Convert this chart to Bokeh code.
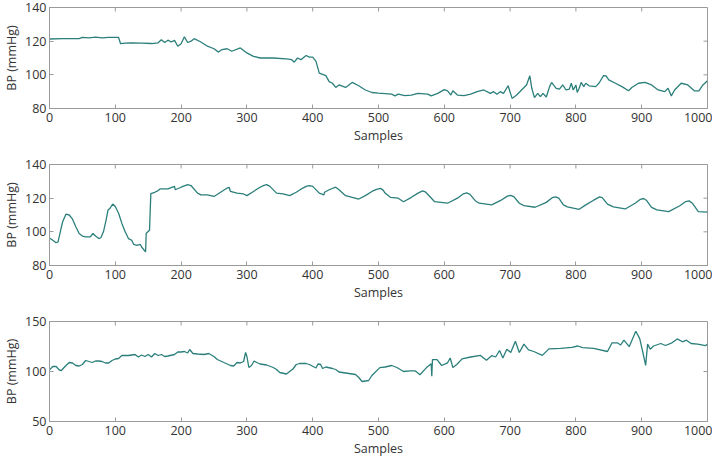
import math
from bokeh.plotting import figure
from bokeh.layouts import column
from bokeh.models import FixedTicker, Range1d
from bokeh.embed import file_html
from bokeh.resources import INLINE

# ---- data ----
s1_x = [0, 20, 45, 50, 60, 70, 80, 90, 105, 108, 115, 125, 140, 155, 165, 170, 175, 180, 185, 190,
        195, 200, 205, 210, 215, 220, 230, 240, 250, 257, 262, 270, 277, 290, 300, 310, 320, 340, 360,
        368, 372, 377, 382, 390, 395, 400, 405, 410, 420, 425, 430, 435, 440, 450, 460, 470, 480, 490,
        500, 510, 520, 525, 530, 540, 550, 560, 575, 580, 590, 600, 605, 610, 613, 620, 630, 640, 650,
        660, 670, 675, 680, 685, 690, 697, 703, 710, 720, 725, 730, 733, 737, 742, 746, 750, 755, 760,
        763, 770, 775, 780, 785, 790, 793, 796, 800, 802, 805, 808, 812, 815, 820, 830, 835, 842, 846,
        850, 860, 870, 880, 885, 895, 905, 915, 925, 935, 940, 945, 950, 960, 970, 980, 987, 993, 1000]
s1_y = [121.3, 121.5, 121.5, 122.3, 122.0, 122.4, 122.0, 122.3, 122.2, 118.5, 118.8, 119.0, 118.8, 118.6, 119.0, 120.8, 119.2, 120.6, 119.5, 120.5,
        117.0, 118.5, 122.6, 119.2, 120.0, 121.5, 119.5, 117.0, 115.5, 113.5, 115.0, 115.5, 114.0, 116.0, 113.0, 111.0, 110.0, 110.0, 109.5,
        109.0, 107.5, 110.0, 109.0, 111.5, 110.5, 110.5, 108.0, 101.0, 99.5, 96.0, 95.0, 92.5, 94.0, 92.5, 95.5, 93.5, 91.0, 89.5,
        89.1, 88.8, 88.5, 87.5, 88.5, 87.6, 88.0, 89.0, 88.5, 87.5, 89.0, 91.2, 90.5, 88.0, 90.5, 88.0, 87.6, 88.5, 90.0,
        91.0, 89.0, 90.0, 88.5, 90.0, 89.0, 93.5, 86.0, 88.0, 92.0, 94.0, 99.4, 92.0, 86.5, 89.0, 87.0, 89.0, 86.8, 93.0,
        95.5, 92.0, 91.5, 94.0, 91.0, 91.5, 95.0, 91.0, 94.0, 89.5, 92.0, 95.5, 93.0, 95.0, 93.5, 93.0, 95.0, 99.5, 99.3,
        97.0, 95.0, 93.0, 90.5, 92.5, 95.0, 95.5, 94.0, 91.0, 90.0, 92.0, 87.5, 91.0, 95.0, 94.0, 90.5, 90.5, 94.0, 96.5]

s2_x = [0, 5, 10, 13, 17, 20, 25, 30, 35, 40, 45, 50, 55, 62, 66, 70, 75, 78, 82, 86, 89, 92, 96, 100,
        105, 110, 115, 120, 125, 128, 133, 138, 140, 146, 147, 152, 154, 160, 165, 168, 180, 190, 191, 200,
        210, 215, 225, 230, 240, 250, 260, 270, 273, 275, 285, 295, 300, 310, 320, 326, 330, 335, 345, 355, 365,
        375, 385, 391, 395, 400, 410, 417, 418, 425, 435, 440, 450, 460, 470, 480, 490, 497, 503, 507, 510, 518, 530, 538,
        550, 560, 567, 571, 578, 585, 605, 620, 629, 634, 639, 647, 653, 672, 685, 696, 701, 706, 714, 721, 738, 755, 764, 769, 774, 781, 787, 805, 815,
        827, 836, 840, 848, 857, 875, 890, 898, 903, 907, 915, 923, 941, 958, 967, 972, 977, 986, 1000]
s2_y = [96.3, 95.0, 93.5, 94.0, 101.0, 106.0, 110.5, 110.0, 107.5, 103.0, 99.0, 97.5, 97.0, 97.0, 99.0, 97.5, 96.0, 96.5, 100.0, 107.0, 113.0, 114.0, 116.5, 115.0,
        111.0, 105.0, 100.0, 96.0, 95.0, 92.5, 92.0, 92.5, 91.0, 88.1, 99.2, 101.0, 122.7, 123.5, 124.5, 125.5, 125.5, 127.0, 125.0, 126.5,
        128.0, 127.5, 123.0, 122.0, 122.0, 121.0, 123.5, 126.0, 126.5, 124.0, 123.0, 122.5, 121.5, 124.0, 126.5, 127.6, 128.0, 127.0, 123.0, 122.5, 121.5,
        123.5, 126.0, 127.2, 127.5, 127.0, 123.0, 122.0, 123.5, 125.0, 126.5, 125.0, 121.5, 120.5, 119.5, 121.5, 124.0, 125.2, 125.8, 124.8, 123.0, 120.5, 120.0, 117.9,
        120.5, 123.0, 124.3, 123.8, 121.0, 118.0, 117.0, 120.0, 122.6, 123.1, 122.3, 118.5, 117.0, 116.0, 118.5, 121.2, 121.7, 120.8, 117.0, 115.6, 114.6, 117.5, 120.3, 120.8, 120.0, 116.0, 114.8, 113.4, 116.0,
        118.8, 120.8, 120.3, 116.5, 114.8, 113.6, 117.0, 119.3, 119.8, 118.8, 114.5, 113.0, 112.0, 115.5, 118.0, 118.4, 117.0, 112.0, 111.7]

s3_x = [0, 5, 10, 15, 18, 25, 30, 35, 40, 45, 50, 55, 60, 65, 70, 75, 80, 85, 90, 95, 100, 105, 110, 120,
        130, 135, 140, 145, 150, 155, 160, 165, 170, 175, 180, 190, 195, 200, 205, 210, 213, 218, 225, 235,
        242, 250, 255, 265, 275, 280, 285, 290, 295, 298, 300, 303, 307, 311, 315, 320, 330, 340, 345, 350,
        360, 370, 375, 380, 390, 395, 405, 408, 412, 415, 420, 430, 435, 440, 450, 460, 465, 470, 475, 480,
        485, 490, 502, 510, 520, 528, 538, 548, 556, 563, 573, 580, 581, 582, 589, 596, 605, 609, 613, 619,
        627, 640, 655, 664, 672, 678, 684, 689, 695, 701, 708, 714, 721, 728, 736, 749, 759, 777, 794, 803,
        810, 827, 848, 855, 863, 868, 873, 881, 891, 897, 902, 906, 909, 913, 918, 929, 936, 946, 954, 962,
        968, 975, 985, 997, 1000]
s3_y = [101.6, 105.0, 105.0, 101.5, 101.0, 106.0, 109.0, 108.5, 106.0, 105.5, 107.0, 111.0, 110.0, 109.0, 110.5, 110.5, 110.0, 108.5, 108.5, 111.0, 112.5, 113.0, 116.0, 116.0,
        117.0, 114.5, 116.5, 115.0, 117.0, 114.5, 118.0, 116.0, 117.0, 115.0, 115.5, 117.0, 119.5, 119.5, 120.0, 118.5, 122.0, 118.0, 117.5, 117.0,
        118.0, 115.0, 112.0, 109.0, 106.0, 105.5, 109.0, 108.5, 110.0, 119.0, 115.0, 104.0, 106.0, 110.5, 109.0, 107.5, 106.5, 104.0, 102.0, 99.0,
        97.5, 102.5, 107.0, 108.0, 108.0, 107.0, 103.5, 107.5, 107.0, 103.0, 104.5, 103.0, 102.0, 99.5, 98.5, 97.5, 97.0, 94.0, 90.0, 90.5,
        91.0, 96.0, 103.9, 104.5, 106.0, 104.0, 100.0, 100.6, 100.6, 96.8, 103.9, 107.7, 95.2, 111.9, 111.9, 106.0, 108.7, 113.5, 103.9, 107.0,
        112.6, 114.5, 116.1, 111.3, 115.8, 114.5, 121.0, 113.5, 122.3, 119.0, 130.3, 119.0, 127.4, 121.6, 120.0, 116.1, 122.6, 123.2, 124.2, 125.5,
        123.9, 123.2, 120.0, 128.7, 128.7, 126.5, 131.3, 124.8, 140.3, 132.9, 118.4, 106.1, 127.4, 122.3, 125.5, 128.0, 126.0, 128.7, 132.6, 129.7,
        131.3, 128.0, 127.4, 125.8, 127.4]

x_ticks = [0, 100, 200, 300, 400, 500, 600, 700, 800, 900, 1000]
panels = [
    (s1_x, s1_y, (80, 140), [80, 100, 120, 140]),
    (s2_x, s2_y, (80, 140), [80, 100, 120, 140]),
    (s3_x, s3_y, (50, 150), [50, 100, 150]),
]

LINE = "#2b7f7b"
AX = "#9a9a9a"
TXT = "#333333"
FONT = "Open Sans"
layout_spec = [(156, 7, 48), (157, 8, 48), (146, 8, 37)]

figs = []
for (xs, ys, yr, yt), (h, bt, bb) in zip(panels, layout_spec):
    p = figure(width=712, height=h, output_backend="svg", toolbar_location=None,
               x_range=Range1d(0, 1000), y_range=Range1d(*yr),
               min_border_left=41, min_border_right=5, min_border_top=bt, min_border_bottom=bb)
    p.line(xs, ys, line_color=LINE, line_width=1.3)
    p.grid.visible = False
    p.outline_line_color = AX
    p.outline_line_width = 1
    for ax, ticks in ((p.xaxis[0], x_ticks), (p.yaxis[0], yt)):
        ax.ticker = FixedTicker(ticks=ticks)
        ax.axis_line_color = AX
        ax.major_tick_line_color = AX
        ax.major_tick_in = 4
        ax.major_tick_out = 0
        ax.minor_tick_line_color = None
        ax.major_label_text_font = FONT
        ax.major_label_text_font_size = "12.5px"
        ax.major_label_text_color = TXT
        ax.axis_label_text_font = FONT
        ax.axis_label_text_font_size = "12.5px"
        ax.axis_label_text_font_style = "normal"
        ax.axis_label_text_color = TXT
    p.xaxis[0].axis_label = "Samples"
    p.xaxis[0].major_label_standoff = 4
    p.xaxis[0].axis_label_standoff = 2
    p.yaxis[0].axis_label = "BP (mmHg)"
    p.yaxis[0].major_label_standoff = 3
    p.yaxis[0].axis_label_standoff = 2
    # mirrored tick marks on top and right edges
    p.ray(x=x_ticks, y=[yr[1]] * len(x_ticks), length=4, length_units="screen",
          angle=-math.pi / 2, line_color=AX, line_width=1)
    p.ray(x=[1000] * len(yt), y=yt, length=4, length_units="screen",
          angle=math.pi, line_color=AX, line_width=1)
    figs.append(p)

layout = column(*figs, spacing=0)
open("out.html", "w").write(file_html(layout, INLINE))
